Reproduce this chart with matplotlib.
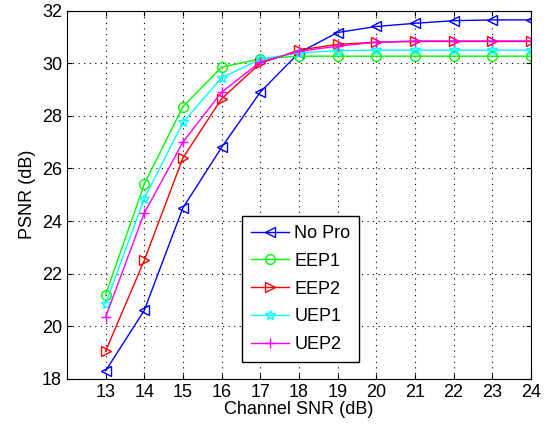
import numpy as np
import matplotlib
matplotlib.use("Agg")
import matplotlib.pyplot as plt

plt.rcParams['font.family'] = ['Liberation Sans', 'DejaVu Sans']

snr = [13, 14, 15, 16, 17, 18, 19, 20, 21, 22, 23, 24]
no_pro = [18.3, 20.6, 24.5, 26.8, 28.9, 30.4, 31.17, 31.4, 31.52, 31.62, 31.65, 31.65]
eep1 = [21.2, 25.4, 28.35, 29.85, 30.17, 30.27, 30.27, 30.27, 30.27, 30.27, 30.27, 30.27]
eep2 = [19.05, 22.5, 26.4, 28.65, 30.0, 30.5, 30.72, 30.8, 30.83, 30.83, 30.83, 30.83]
uep1 = [20.85, 24.85, 27.75, 29.45, 30.15, 30.4, 30.48, 30.5, 30.5, 30.5, 30.5, 30.5]
uep2 = [20.35, 24.3, 27.0, 28.9, 30.05, 30.45, 30.65, 30.8, 30.85, 30.85, 30.85, 30.85]

labels = ['No Pro', 'EEP1', 'EEP2', 'UEP1', 'UEP2']
series = [no_pro, eep1, eep2, uep1, uep2]
colors = ['#0000ff', '#00ff00', '#ff0000', '#00ffff', '#ff00ff']
markers = ['<', 'o', '>', '*', '+']

fig = plt.figure(figsize=(5.53, 4.28), dpi=100)
ax = fig.add_axes([0.121, 0.115, 0.839, 0.86])

for y, lab, c, m in zip(series, labels, colors, markers):
    ax.plot(snr, y, color=c, marker=m, markersize=7, markerfacecolor='none',
            markeredgecolor=c, linewidth=1.0, label=lab)

ax.set_xlim(12, 24)
ax.set_ylim(18, 32)
ax.set_xticks(snr)
ax.set_yticks(np.arange(18, 33, 2))
ax.grid(True, linestyle=(0, (1, 4)), color='black', linewidth=0.8)
ax.tick_params(direction='in', labelsize=13, top=True, right=True)
ax.set_xlabel('Channel SNR (dB)', fontsize=13, labelpad=0)
ax.set_ylabel('PSNR (dB)', fontsize=13, labelpad=4)

leg = ax.legend(loc='lower left', bbox_to_anchor=(0.377, 0.045), fontsize=13,
                fancybox=False, edgecolor='black', framealpha=1,
                handlelength=2.1, handletextpad=0.3, borderpad=0.5,
                labelspacing=0.6, borderaxespad=0)
leg.get_frame().set_linewidth(1.0)

fig.savefig('out.png', dpi=100)
